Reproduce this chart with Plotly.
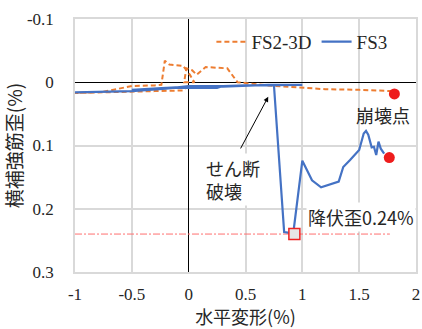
import plotly.graph_objects as go

# ---- data ----
fs2_x = [0.0, -0.05, -0.3, -0.5, -0.75, -1.0, -0.75, -0.5, -0.3, -0.24, -0.21, -0.17, -0.05,
         0.01, 0.05, -0.04, -0.02, 0.03, 0.07, 0.15, 0.34, 0.43, 0.7, 0.98, 1.2, 1.5, 1.79]
fs2_y = [0.005, 0.013, 0.014, 0.015, 0.016, 0.017, 0.015, 0.006, 0.005, 0.004, -0.034, -0.028, -0.026,
         -0.012, 0.0, 0.0, -0.022, -0.019, -0.012, -0.024, -0.022, 0.0, 0.005, 0.008, 0.011, 0.012, 0.014]

fs3_x = [-1.0, -0.5, -0.2, 0.0, 0.3, 0.5, 1.0, 0.7, 0.3, 0.0, -0.5, -0.2, 0.25, 0.3, 0.75,
         0.84, 0.92, 1.0, 1.085, 1.165, 1.32, 1.36, 1.42, 1.50, 1.54, 1.56, 1.58, 1.61, 1.63,
         1.65, 1.67, 1.69, 1.72]
fs3_y = [0.016, 0.014, 0.010, 0.006, 0.006, 0.005, 0.004, 0.004, 0.007, 0.007, 0.012, 0.009, 0.009,
         0.006, 0.004, 0.237, 0.239, 0.124, 0.155, 0.166, 0.157, 0.134, 0.123, 0.107, 0.081, 0.077,
         0.083, 0.103, 0.102, 0.115, 0.094, 0.105, 0.113]

collapse_x = [1.81, 1.765]
collapse_y = [0.0185, 0.119]

yield_strain = 0.24
yield_line_x = [-1.0, 1.77]
yield_point_x = [0.93]

x_ticks = [-1, -0.5, 0, 0.5, 1, 1.5, 2]
x_ticklabels = ["-1", "-0.5", "0", "0.5", "1", "1.5", "2"]
y_ticks = [-0.1, 0, 0.1, 0.2, 0.3]
y_ticklabels = ["-0.1", "0", "0.1", "0.2", "0.3"]

SERIF = "Liberation Serif"
CJK = "Noto Sans CJK JP"
ORANGE = "#ED7D31"
BLUE = "#4472C4"
GRID = "#D9D9D9"
TXT = "#262626"

fig = go.Figure()

fig.add_trace(go.Scatter(
    x=yield_line_x, y=[yield_strain] * len(yield_line_x), mode="lines",
    line=dict(color="#FF7070", width=1, dash="7px,2px,2px,2px"),
    showlegend=False, hoverinfo="skip"))

fig.add_trace(go.Scatter(
    x=fs2_x, y=fs2_y, mode="lines", name="FS2-3D",
    line=dict(color=ORANGE, width=2, dash="5px,3px")))

fig.add_trace(go.Scatter(
    x=fs3_x, y=fs3_y, mode="lines", name="FS3",
    line=dict(color=BLUE, width=2.2)))

fig.add_trace(go.Scatter(
    x=collapse_x, y=collapse_y, mode="markers",
    marker=dict(color="#EE1C1C", size=11, line=dict(width=0)),
    showlegend=False))

fig.add_trace(go.Scatter(
    x=yield_point_x, y=[yield_strain], mode="markers",
    marker=dict(symbol="square", color="#E7E6E6", size=11,
                line=dict(color="#EE2222", width=1.5)),
    showlegend=False))

# annotations
fig.add_annotation(x=1.71, y=0.052, text="崩壊点", showarrow=False,
                   font=dict(size=18, color=TXT, family=CJK))
fig.add_annotation(x=0.39, y=0.153, text="せん断<br>破壊", showarrow=False, align="left",
                   bgcolor="white", font=dict(size=18, color=TXT, family=CJK))
fig.add_annotation(x=0.70, y=0.023, ax=0.45, ay=0.107, axref="x", ayref="y",
                   text="", showarrow=True, arrowhead=2, arrowsize=1, arrowwidth=1,
                   arrowcolor="#000000")
fig.add_annotation(x=1.52, y=0.2127, text="降伏歪0.24%", showarrow=False,
                   bgcolor="white", font=dict(size=18, color=TXT, family=CJK))

fig.update_layout(
    width=422, height=329,
    margin=dict(l=75, r=6, t=19, b=57),
    paper_bgcolor="white", plot_bgcolor="white",
    font=dict(family=SERIF, size=17, color=TXT),
    legend=dict(orientation="h", x=0.40, y=0.985, xanchor="left", yanchor="top",
                bgcolor="rgba(0,0,0,0)", font=dict(size=19, family=SERIF, color=TXT),
                itemwidth=30, tracegroupgap=0),
    xaxis=dict(range=[-1, 2], tickvals=x_ticks, ticktext=x_ticklabels,
               showgrid=True, gridcolor=GRID, gridwidth=1.5,
               zeroline=True, zerolinecolor="#000000", zerolinewidth=1,
               showline=True, linecolor=GRID, linewidth=1.5, mirror=True,
               ticks="", ticklabelstandoff=6, automargin=False,
               tickfont=dict(family=SERIF, size=17, color=TXT),
               title=dict(text="水平変形(%)",
                          font=dict(size=18, family=CJK, color=TXT), standoff=9)),
    yaxis=dict(range=[0.3, -0.1], tickvals=y_ticks, ticktext=y_ticklabels,
               showgrid=True, gridcolor=GRID, gridwidth=1.5,
               zeroline=True, zerolinecolor="#000000", zerolinewidth=1,
               showline=True, linecolor=GRID, linewidth=1.5, mirror=True,
               ticks="", ticklabelstandoff=16, automargin=False,
               tickfont=dict(family=SERIF, size=17, color=TXT),
               title=dict(text="横補強筋歪(%)",
                          font=dict(size=19, family=CJK, color=TXT), standoff=2)),
)

fig.write_html("out.html")
